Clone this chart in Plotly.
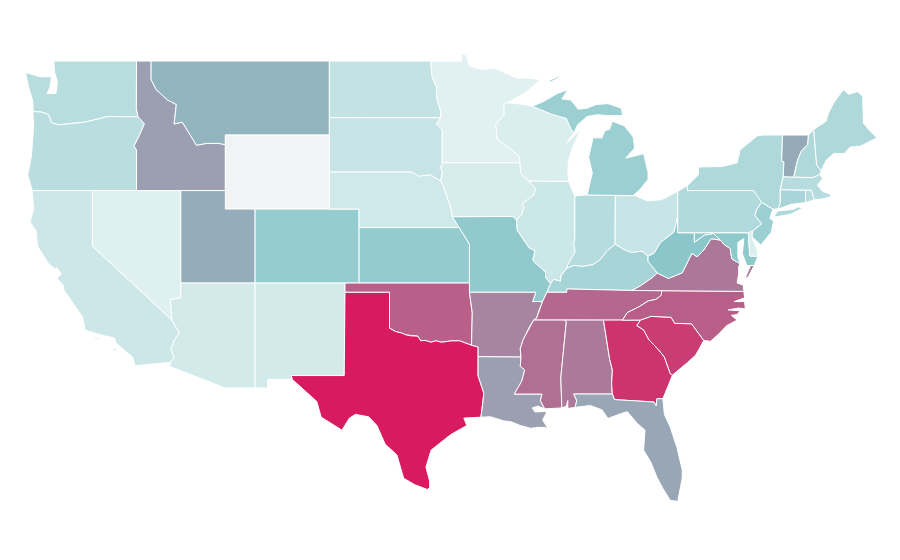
import plotly.graph_objects as go
from plotly.colors import sample_colorscale

# Shared borders (lon, lat)
SAVANNAH = [(-83.11,35.0),(-83.35,34.7),(-82.9,34.47),(-82.55,33.95),(-81.9,33.4),(-81.5,33.0),(-81.1,32.1),(-80.95,32.03)]
NC_SC = [(-83.11,35.0),(-82.4,35.2),(-81.05,35.15),(-80.8,34.82),(-79.67,34.8),(-78.85,33.9)]
NC_TN = [(-81.68,36.59),(-81.7,36.35),(-82.05,36.12),(-82.6,36.03),(-83.2,35.72),(-84.0,35.4),(-84.32,34.99)]
MS_AR = [(-90.3,35.0),(-90.6,34.6),(-91.0,33.95),(-91.2,33.45),(-91.15,33.0)]
MS_LA = [(-91.15,33.0),(-91.2,32.5),(-90.9,32.3),(-91.1,31.7),(-91.6,31.0),(-89.73,31.0),(-89.85,30.65),(-89.55,30.2)]
TN_AR = [(-89.7,36.0),(-89.95,35.5),(-90.1,35.1),(-90.3,35.0)]
OHIO_OH_KY = [(-82.6,38.45),(-83.0,38.72),(-83.7,38.65),(-84.2,38.8),(-84.82,39.1)]
OHIO_IN_KY = [(-84.82,39.1),(-85.4,38.7),(-85.8,38.27),(-86.3,38.0),(-87.0,37.9),(-87.6,37.95),(-88.05,37.8)]
OHIO_IL_KY = [(-88.05,37.8),(-88.45,37.4),(-88.5,37.1),(-88.95,37.2),(-89.15,36.98)]
WABASH = [(-88.05,37.8),(-88.0,38.0),(-87.5,38.7),(-87.6,39.1),(-87.53,39.35)]
MISS_IL_MO = [(-89.15,36.98),(-89.5,37.3),(-89.5,37.6),(-90.2,38.1),(-90.35,38.25),(-90.2,38.75),(-90.6,38.9),(-91.4,39.85),(-91.45,40.4)]
MISS_IL_IA = [(-91.45,40.4),(-91.1,40.7),(-90.95,41.1),(-91.05,41.3),(-90.3,41.75),(-90.15,42.1),(-90.64,42.51)]
MISS_WI_IA = [(-90.64,42.51),(-91.15,42.9),(-91.22,43.5)]
MISS_WI_MN = [(-91.22,43.5),(-91.25,43.85),(-91.92,44.3),(-92.75,44.75),(-92.85,45.6),(-92.29,46.08),(-92.29,46.66),(-92.1,46.75)]
MO_NE = [(-95.3,40.0),(-95.77,40.58)]
MO_KS = [(-94.62,39.1),(-95.0,39.6),(-95.3,40.0)]
IA_NE = [(-95.77,40.58),(-95.85,41.0),(-96.1,41.6),(-96.4,42.3),(-96.55,42.5)]
IA_SD = [(-96.55,42.5),(-96.45,43.0),(-96.55,43.25),(-96.45,43.5)]
SD_NE = [(-96.55,42.5),(-97.25,42.85),(-98.0,42.77),(-98.5,43.0)]
MN_SD = [(-96.45,43.5),(-96.45,45.3),(-96.85,45.6),(-96.56,45.93)]
MN_ND = [(-96.56,45.93),(-96.56,46.3),(-96.8,46.9),(-96.85,47.6),(-97.15,48.2),(-97.23,49.0)]
RED_RIVER = [(-100.0,34.56),(-99.6,34.38),(-99.2,34.3),(-98.9,34.2),(-98.6,34.15),(-98.1,34.13),(-97.9,33.88),(-97.6,33.9),(-97.2,33.8),(-96.9,33.88),(-96.5,33.8),(-95.9,33.87),(-95.3,33.88),(-94.9,33.75),(-94.48,33.64)]
SNAKE_OR = [(-116.92,45.99),(-116.5,45.6),(-116.85,44.95),(-117.2,44.4),(-117.03,44.2),(-117.03,42.0)]
COLUMBIA = [(-124.0,46.27),(-123.45,46.25),(-122.95,46.1),(-122.75,45.65),(-122.25,45.55),(-121.2,45.65),(-120.5,45.7),(-119.3,45.93),(-118.98,46.0),(-116.92,45.99)]
BITTERROOT = [(-116.05,49.0),(-116.05,48.0),(-115.7,47.45),(-114.95,46.9),(-114.35,46.65),(-114.5,45.6),(-113.95,45.7),(-113.45,45.05),(-113.0,44.45),(-112.3,44.55),(-111.5,44.55),(-111.05,44.48)]
COLORADO_R = [(-114.65,35.0),(-114.15,34.3),(-114.5,33.9),(-114.72,33.4),(-114.5,33.0),(-114.72,32.72)]
VA_WV = [(-77.72,39.32),(-78.35,39.4),(-78.87,38.76),(-79.3,38.42),(-79.65,38.6),(-80.3,37.55),(-81.23,37.25),(-81.97,37.54)]
KY_VA = [(-81.97,37.54),(-82.3,37.3),(-83.1,36.85),(-83.68,36.6)]
POTOMAC_WV = [(-79.48,39.2),(-78.8,39.6),(-78.2,39.68),(-77.72,39.32)]
POTOMAC_VA = [(-76.4,38.05),(-76.95,38.3),(-77.05,38.7),(-77.05,38.85),(-77.5,39.1),(-77.72,39.32)]
PA_NJ = [(-74.95,41.36),(-75.3,40.95),(-75.4,40.65),(-74.95,40.2),(-75.55,39.82)]
NY_PA_E = [(-79.95,42.0),(-75.5,42.0),(-75.25,41.75),(-74.95,41.36)]
VT_NH = [(-71.8,45.0),(-71.85,44.5),(-72.3,44.1),(-72.55,43.6),(-72.7,43.0),(-72.8,42.73)]
VT_NY = [(-73.55,45.0),(-73.55,44.5),(-73.6,43.6),(-73.45,43.55),(-73.5,42.75)]
ME_NH = [(-71.45,45.3),(-71.25,43.4),(-70.95,43.07)]
UP_WI = [(-90.4,46.55),(-89.1,46.13),(-88.1,45.9),(-87.8,45.35),(-87.6,45.1)]

def rev(s):
    return s[::-1]

STATE_SHAPES = {
    "WA": [[(-124.5,48.38),(-123.5,48.15),(-122.75,48.15),(-122.85,47.6),(-123.05,47.25),(-122.45,47.25),(-122.35,47.9),(-122.55,48.4),(-122.6,49.0),(-117.03,49.0),(-117.04,46.42),(-116.92,45.99)] + rev(COLUMBIA)[1:] + [(-124.0,46.7),(-124.05,46.95),(-124.3,47.6)]],
    "OR": [COLUMBIA + SNAKE_OR[1:] + [(-124.05,42.0),(-124.35,42.85),(-124.1,43.9),(-123.95,45.5)]],
    "CA": [[(-124.05,42.0),(-120.0,42.0),(-120.0,39.0)] + COLORADO_R + [(-117.12,32.53),(-117.3,33.0),(-118.4,33.75),(-118.5,34.03),(-119.2,34.15),(-120.5,34.45),(-120.65,35.15),(-121.9,36.6),(-122.0,36.95),(-122.4,37.25),(-122.1,37.5),(-122.4,37.85),(-122.5,37.75),(-122.95,38.05),(-123.7,39.0),(-123.8,39.85),(-124.2,40.3),(-123.95,41.0)],
           [(-119.9,34.07),(-119.55,34.07),(-119.55,33.98),(-119.9,33.98)],
           [(-118.6,33.48),(-118.35,33.48),(-118.35,33.35),(-118.6,33.35)]],
    "NV": [[(-120.0,42.0),(-114.05,42.0),(-114.05,36.2),(-114.75,36.1),(-114.65,35.0),(-120.0,39.0)]],
    "ID": [[(-117.03,49.0)] + BITTERROOT + [(-111.05,42.0)] + rev(SNAKE_OR) + [(-117.04,46.42)]],
    "MT": [BITTERROOT + [(-111.05,45.0),(-104.05,45.0),(-104.05,49.0)]],
    "WY": [[(-111.05,45.0),(-104.05,45.0),(-104.05,41.0),(-111.05,41.0)]],
    "UT": [[(-114.05,42.0),(-111.05,42.0),(-111.05,41.0),(-109.05,41.0),(-109.05,37.0),(-114.05,37.0)]],
    "CO": [[(-109.05,41.0),(-102.05,41.0),(-102.05,37.0),(-109.05,37.0)]],
    "AZ": [[(-114.05,37.0),(-109.05,37.0),(-109.05,31.33),(-111.07,31.33),(-114.81,32.5)] + rev(COLORADO_R) + [(-114.75,36.1),(-114.05,36.2)]],
    "NM": [[(-109.05,37.0),(-103.0,37.0),(-103.05,32.0),(-106.62,32.0),(-106.53,31.78),(-108.2,31.78),(-108.2,31.33),(-109.05,31.33)]],
    "ND": [[(-104.05,49.0),(-97.23,49.0)] + rev(MN_ND)[1:] + [(-104.05,45.94)]],
    "SD": [[(-104.05,45.94)] + rev(MN_SD) + rev(IA_SD)[1:] + SD_NE[1:] + [(-104.05,43.0)]],
    "NE": [[(-104.05,43.0)] + rev(SD_NE) + rev(IA_NE)[1:] + [(-95.3,40.0),(-102.05,40.0),(-102.05,41.0),(-104.05,41.0)]],
    "KS": [[(-102.05,40.0)] + rev(MO_KS) + [(-94.62,37.0),(-102.05,37.0)]],
    "OK": [[(-103.0,37.0),(-94.62,37.0),(-94.62,36.5),(-94.43,35.4)] + rev(RED_RIVER) + [(-100.0,36.5),(-103.0,36.5)]],
    "TX": [[(-103.0,36.5),(-100.0,36.5)] + RED_RIVER + [(-94.04,33.55),(-94.04,31.99),(-93.65,31.05),(-93.75,30.3),(-93.85,29.75),(-95.0,29.7),(-94.8,29.3),(-95.9,28.8),(-97.2,27.97),(-97.55,27.05),(-97.3,26.3),(-97.3,25.95),(-97.45,25.84),(-98.3,26.1),(-99.05,26.45),(-99.5,27.7),(-100.3,28.3),(-100.85,29.3),(-101.4,29.77),(-102.3,29.9),(-102.7,29.7),(-103.2,29.05),(-104.6,29.75),(-104.9,30.6),(-106.53,31.78),(-106.62,32.0),(-103.05,32.0)]],
    "MN": [[(-97.23,49.0),(-95.15,49.0),(-95.15,49.38),(-94.82,49.32),(-94.64,48.74),(-93.8,48.55),(-92.95,48.62),(-92.0,48.3),(-91.4,48.07),(-90.75,48.09),(-89.85,48.0),(-90.8,47.3)] + rev(MISS_WI_MN) + [(-96.45,43.5)] + MN_SD[1:] + MN_ND[1:]],
    "IA": [[(-96.45,43.5),(-91.22,43.5)] + rev(MISS_WI_IA)[1:] + rev(MISS_IL_IA)[1:] + [(-91.7,40.6),(-95.77,40.58)] + IA_NE[1:] + IA_SD[1:]],
    "MO": [[(-95.77,40.58),(-91.7,40.6),(-91.45,40.4)] + rev(MISS_IL_MO)[1:] + [(-89.4,36.5),(-89.7,36.0),(-90.37,36.0),(-90.15,36.5),(-94.62,36.5),(-94.62,39.1)] + MO_KS[1:] + MO_NE[1:]],
    "AR": [[(-94.62,36.5),(-90.15,36.5),(-90.37,36.0)] + TN_AR + MS_AR[1:] + [(-94.04,33.02),(-94.04,33.55),(-94.48,33.64),(-94.43,35.4)]],
    "LA": [[(-94.04,33.02)] + MS_LA + [(-90.0,30.35),(-90.4,30.25),(-90.2,30.03),(-89.7,30.05),(-89.4,30.05),(-89.7,29.6),(-89.3,29.1),(-89.5,29.2),(-90.0,29.2),(-90.5,29.15),(-91.2,29.3),(-91.8,29.5),(-92.3,29.55),(-93.2,29.77),(-93.85,29.75),(-93.75,30.3),(-93.65,31.05),(-94.04,31.99)]],
    "WI": [[(-92.1,46.75),(-90.9,46.65)] + UP_WI + [(-87.95,44.75),(-88.1,44.55),(-87.35,45.15),(-87.2,45.2),(-87.7,44.3),(-87.95,43.6),(-88.0,43.0),(-87.95,42.49),(-90.64,42.51)] + MISS_WI_IA[1:] + MISS_WI_MN[1:]],
    "IL": [[(-90.64,42.51),(-87.95,42.49),(-87.53,41.71),(-87.53,39.35)] + rev(WABASH)[1:] + OHIO_IL_KY[1:] + MISS_IL_MO[1:] + MISS_IL_IA[1:]],
    "IN": [[(-87.53,41.71),(-86.82,41.76),(-84.8,41.76),(-84.82,39.1)] + OHIO_IN_KY[1:] + WABASH[1:]],
    "OH": [[(-84.8,41.72),(-83.45,41.73),(-82.7,41.45),(-81.7,41.5),(-80.6,41.95),(-80.6,40.64),(-80.85,39.75),(-81.75,39.2),(-82.2,38.6)] + OHIO_OH_KY],
    "MI": [[(-86.7,41.76),(-84.8,41.76),(-84.8,41.72),(-83.6,41.73),(-83.15,42.05),(-82.6,42.6),(-82.6,43.0),(-82.9,44.0),(-83.35,43.9),(-84.1,43.75),(-83.5,44.3),(-83.6,44.9),(-84.2,45.5),(-85.0,45.75),(-85.2,45.3),(-85.5,45.25),(-85.7,44.85),(-86.3,44.85),(-86.6,43.8),(-86.35,42.95)],
           UP_WI + [(-87.35,45.55),(-86.7,46.0),(-86.0,46.1),(-85.35,46.05),(-84.3,46.05),(-84.4,46.45),(-85.3,46.7),(-86.1,46.65),(-86.7,46.45),(-87.3,46.4),(-87.8,46.9),(-88.4,46.95),(-88.0,47.45),(-88.7,47.25),(-89.6,46.83)],
           [(-89.2,47.85),(-88.5,48.15),(-88.7,48.15),(-89.25,47.95)]],
    "KY": [[(-89.4,36.5),(-88.07,36.5),(-88.07,36.68),(-86.5,36.65),(-83.68,36.6)] + rev(KY_VA)[1:] + [(-82.6,38.17)] + OHIO_OH_KY + OHIO_IN_KY[1:] + OHIO_IL_KY[1:]],
    "TN": [[(-90.3,35.0),(-88.2,35.0),(-85.6,35.0),(-84.32,34.99)] + rev(NC_TN)[1:] + [(-83.68,36.6),(-86.5,36.65),(-88.07,36.68),(-88.07,36.5),(-89.4,36.5)] + TN_AR],
    "MS": [[(-90.3,35.0),(-88.2,35.0),(-88.1,34.9),(-88.47,31.9),(-88.4,30.25)] + rev(MS_LA) + rev(MS_AR)[1:]],
    "AL": [[(-88.2,35.0),(-85.6,35.0),(-85.18,32.87),(-85.0,32.3),(-85.05,31.55),(-85.0,31.0),(-87.6,31.0),(-87.4,30.65),(-87.5,30.28),(-88.0,30.22),(-88.0,30.65),(-88.1,30.35),(-88.4,30.25),(-88.47,31.9),(-88.1,34.9)]],
    "GA": [[(-85.6,35.0)] + SAVANNAH + [(-81.4,31.2),(-81.6,30.75),(-82.0,30.75),(-82.05,30.36),(-82.2,30.57),(-84.86,30.7),(-85.0,31.0),(-85.05,31.55),(-85.0,32.3),(-85.18,32.87)]],
    "FL": [[(-87.6,31.0),(-85.0,31.0),(-84.86,30.7),(-82.2,30.57),(-82.05,30.36),(-82.0,30.75),(-81.6,30.75),(-81.5,29.9),(-81.1,29.2),(-80.65,28.1),(-80.3,26.9),(-80.3,26.45),(-80.6,25.2),(-81.1,25.25),(-81.6,25.9),(-82.0,26.5),(-82.4,27.3),(-82.9,27.97),(-82.8,29.05),(-83.3,29.4),(-84.0,30.05),(-84.4,29.95),(-85.3,29.68),(-85.7,30.15),(-86.5,30.38),(-87.5,30.28),(-87.4,30.65)]],
    "SC": [NC_SC + [(-79.15,33.45),(-79.4,33.1),(-79.95,32.7),(-80.55,32.3)] + rev(SAVANNAH)],
    "NC": [[(-84.32,34.99),(-83.11,35.0)] + NC_SC[1:] + [(-78.4,33.85),(-77.9,34.2),(-77.3,34.7),(-76.6,35.0),(-77.0,35.25),(-76.6,35.3),(-76.4,35.5),(-77.2,35.55),(-76.5,35.65),(-76.05,35.6),(-76.1,36.0),(-76.8,36.0),(-76.1,36.2),(-76.15,36.55),(-81.68,36.59)] + NC_TN[1:]],
    "VA": [[(-83.68,36.6),(-81.68,36.59),(-76.15,36.55),(-76.2,36.9),(-76.6,37.0),(-76.5,37.5),(-76.5,37.9)] + POTOMAC_VA + VA_WV[1:] + KY_VA[1:],
           [(-76.1,37.2),(-75.7,37.95),(-75.45,37.95),(-75.85,37.35)]],
    "WV": [[(-80.6,40.64),(-80.6,39.72),(-79.48,39.72)] + POTOMAC_WV + VA_WV[1:] + [(-82.6,38.17),(-82.6,38.45),(-82.2,38.6),(-81.75,39.2),(-80.85,39.75)]],
    "MD": [[(-79.48,39.72),(-75.85,39.72),(-75.75,38.46),(-75.2,38.45),(-75.45,37.95),(-75.7,37.95),(-75.95,37.95),(-76.25,38.6),(-76.15,39.4),(-76.55,39.2),(-76.55,38.4)] + POTOMAC_VA + rev(POTOMAC_WV)[1:]],
    "DE": [[(-75.85,39.72),(-75.55,39.82),(-75.6,39.45),(-75.25,38.8),(-75.2,38.45),(-75.75,38.46)]],
    "PA": [[(-80.6,41.95),(-79.95,42.27)] + NY_PA_E + PA_NJ[1:] + [(-75.85,39.72),(-80.6,39.72)]],
    "NJ": [[(-74.95,41.36),(-74.2,41.0),(-74.4,40.5),(-74.15,40.35),(-74.3,39.75),(-75.0,39.05),(-75.6,39.5),(-75.55,39.82)] + rev(PA_NJ)[1:]],
    "NY": [[(-79.95,42.27),(-79.2,42.85),(-79.2,43.27),(-77.6,43.3),(-76.6,43.5),(-76.4,44.2),(-75.25,44.95),(-74.9,45.0)] + VT_NY + [(-73.7,42.05),(-73.7,41.3),(-73.85,41.0),(-74.2,41.0)] + rev(NY_PA_E),
           [(-74.1,40.65),(-73.85,40.9),(-72.8,40.98),(-72.5,41.12),(-72.2,41.05),(-73.0,40.72),(-73.95,40.58)]],
    "CT": [[(-73.7,42.05),(-72.0,42.02),(-72.0,41.35),(-73.0,41.25),(-73.85,41.0),(-73.7,41.3)]],
    "RI": [[(-72.0,42.02),(-71.6,42.02),(-71.4,41.5),(-72.0,41.35)]],
    "MA": [[(-73.5,42.75),(-72.8,42.73),(-71.5,42.7),(-71.05,42.88),(-70.85,42.65),(-71.2,42.3),(-70.85,41.95),(-70.3,41.8),(-70.3,42.0),(-70.3,41.67),(-70.85,41.55),(-71.4,41.5),(-71.6,42.02),(-72.0,42.02),(-73.7,42.05)]],
    "VT": [[(-73.55,45.0)] + VT_NH + rev(VT_NY)[:-1]],
    "NH": [VT_NH[:1] + ME_NH + [(-71.05,42.88),(-71.5,42.7)] + rev(VT_NH)[:-1]],
    "ME": [[(-71.45,45.3),(-70.6,45.75),(-70.45,46.2),(-70.05,46.8),(-69.45,47.46),(-69.1,47.2),(-68.5,47.35),(-68.15,47.1),(-68.1,45.65),(-67.75,45.3),(-67.2,44.85),(-68.3,44.4),(-69.0,44.35),(-69.4,44.0),(-70.1,44.0),(-70.6,43.65)] + rev(ME_NH)[:-1]],
}

state_codes = ["WA","OR","CA","NV","ID","MT","WY","UT","CO","AZ","NM","ND","SD","NE","KS","OK","TX","MN","IA","MO","AR","LA","WI","IL","IN","OH","MI","KY","TN","MS","AL","GA","FL","SC","NC","VA","WV","MD","DE","PA","NJ","NY","CT","RI","MA","VT","NH","ME"]
state_values = [23.3,22,11.4,1,61.4,55.3,None,57.3,43,8,8,17.6,15.3,10,44.3,80,100,0,6.3,45.5,69,61.4,4,12,25,14.8,39,33.5,77.5,75.4,72.5,93,59.4,90.4,80.4,73,49,47,4,27,38.6,29,32,24,24,58.5,29,29]

color_stops = [[0.0, "#e1f1f2"], [0.5, "#89c6c9"], [1.0, "#d81b60"]]
missing_color = "#f2f3f5"

fig = go.Figure()
for code, value in zip(state_codes, state_values):
    xs, ys = [], []
    for ring in STATE_SHAPES[code]:
        xs += [p[0] for p in ring] + [ring[0][0], None]
        ys += [p[1] for p in ring] + [ring[0][1], None]
    fill = missing_color if value is None else sample_colorscale(color_stops, [value / 100])[0]
    fig.add_trace(go.Scatter(x=xs, y=ys, mode="lines", fill="toself", fillcolor=fill,
                             line=dict(color="#ffffff", width=1), name=code, showlegend=False,
                             hoverinfo="name"))

fig.update_xaxes(range=[-126.22, -65.64], visible=False, fixedrange=True)
fig.update_yaxes(range=[22.03, 52.30], visible=False, fixedrange=True)
fig.update_layout(width=900, height=560, margin=dict(l=0, r=0, t=0, b=0),
                  paper_bgcolor="#ffffff", plot_bgcolor="#ffffff")
fig.write_html("out.html", config=dict(displayModeBar=False),
               post_script="document.body.style.margin='0';")
